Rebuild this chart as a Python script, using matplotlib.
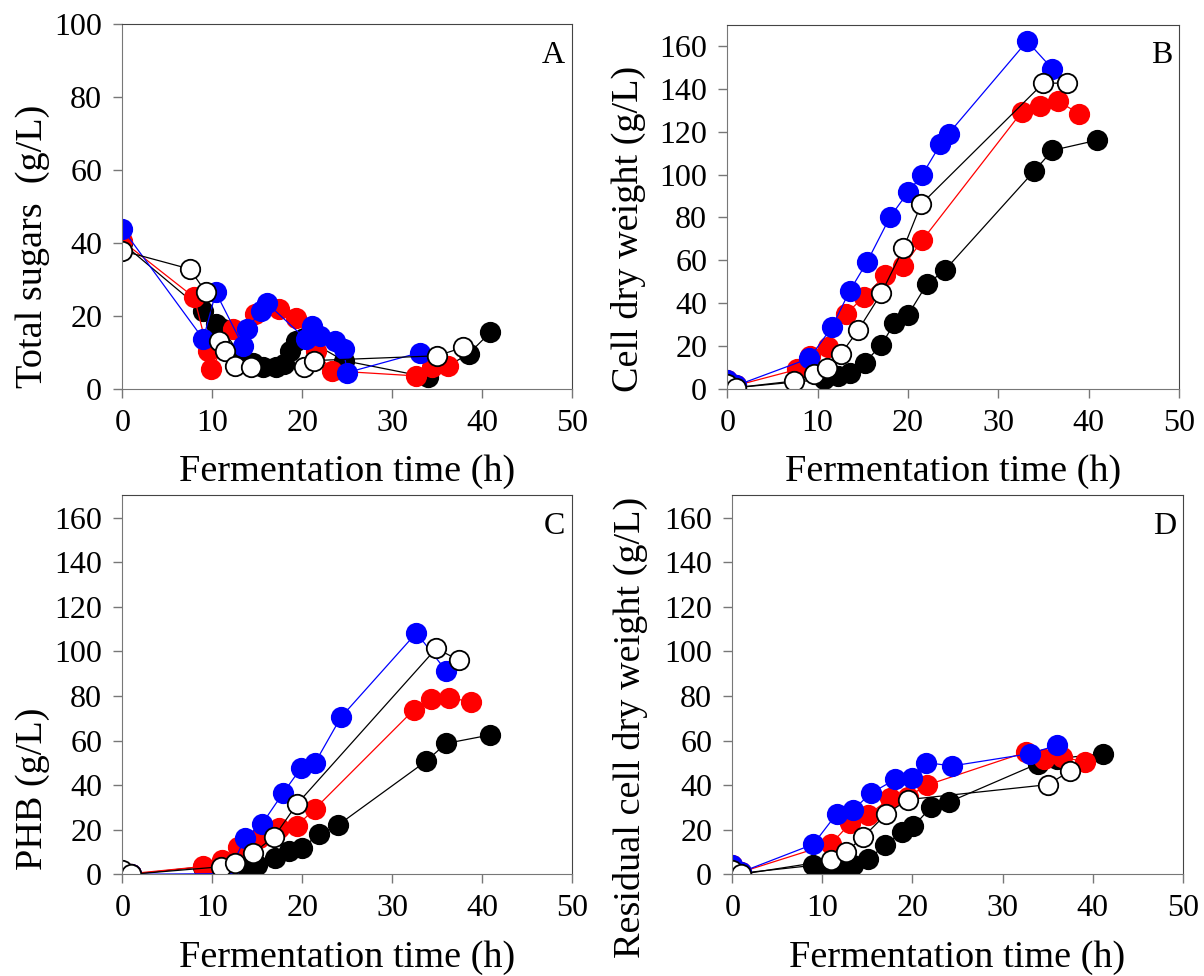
import numpy as np
import matplotlib
matplotlib.use("Agg")
import matplotlib.pyplot as plt

plt.rcParams['font.family'] = ['Liberation Serif', 'DejaVu Serif']

# ---- Panel A: total sugars (g/L)
a_black_t = [0, 9.0, 10.4, 11.2, 13.0, 14.5, 15.6, 17.1, 18.0, 18.6, 19.3, 20.2, 24.6, 34.0, 38.5, 40.9]
a_black_y = [40, 21.4, 17.8, 16.4, 9.6, 7.0, 5.9, 5.9, 6.8, 10.5, 13.2, 14.0, 7.8, 3.2, 9.6, 15.5]
a_red_t = [0, 8.0, 9.5, 9.9, 12.3, 14.7, 17.4, 19.3, 21.5, 23.3, 32.6, 34.4, 36.2]
a_red_y = [40.6, 25.1, 10.5, 5.5, 16.4, 20.5, 21.9, 19.6, 10.5, 5.0, 3.6, 5.9, 6.4]
a_blue_t = [0, 9.0, 10.4, 13.4, 13.9, 15.4, 16.1, 20.4, 21.1, 22.0, 23.7, 24.6, 25.0, 33.1]
a_blue_y = [44, 13.7, 26.5, 11.9, 16.4, 21.5, 23.5, 13.7, 17.3, 14.5, 13.2, 11.0, 4.5, 10.0]
a_open_t = [0, 7.5, 9.3, 10.8, 11.4, 12.5, 14.3, 20.2, 21.3, 35.0, 37.9]
a_open_y = [37.9, 32.9, 26.5, 13.2, 10.5, 6.4, 5.9, 5.9, 7.8, 9.1, 11.4]

# ---- Panel B: cell dry weight (g/L)
b_black_t = [1, 10.7, 12.3, 13.6, 15.2, 17.05, 18.5, 20.0, 22.1, 24.1, 34.0, 36.0, 40.9]
b_black_y = [0.5, 4.4, 5.9, 7.2, 12.1, 20.4, 30.5, 34.4, 48.8, 55.4, 101.7, 111.3, 116]
b_red_t = [0, 1, 7.75, 9.2, 11.1, 13.1, 15.1, 17.5, 19.5, 21.6, 32.6, 34.6, 36.6, 39.0]
b_red_y = [4, 1.5, 9, 15.3, 19.6, 34.7, 42.8, 53, 57.2, 69.4, 129.2, 131.9, 134.3, 128.4]
b_blue_t = [0, 1, 9.1, 11.6, 13.55, 15.5, 18.0, 20.0, 21.6, 23.6, 24.5, 33.2, 36.0]
b_blue_y = [4, 1.5, 14.2, 28.9, 45.6, 59.4, 80, 91.7, 100, 114.1, 119.1, 162.3, 149.4]
b_open_t = [0, 1, 7.4, 9.6, 11.0, 12.55, 14.5, 17.05, 19.5, 21.45, 35.0, 37.6]
b_open_y = [2, 0.5, 3.6, 6.7, 9.8, 16, 27.4, 44.5, 65.5, 86.1, 142.7, 142.7]

# ---- Panel C: PHB (g/L)
c_black_t = [1, 9.0, 12.3, 13.75, 15.0, 17.0, 18.55, 20.0, 21.9, 24.0, 33.8, 36.0, 40.9]
c_black_y = [0, 3.4, 2.0, 3.4, 4.2, 7.4, 10.6, 12.0, 17.9, 22.1, 50.8, 58.7, 62.5]
c_red_t = [0, 1, 9.0, 11.1, 12.9, 15.2, 17.4, 19.4, 21.4, 32.4, 34.3, 36.3, 38.8]
c_red_y = [1, 0.3, 3.5, 6.4, 12.4, 16.1, 20.6, 21.8, 29.3, 73.7, 78.5, 79.2, 77.4]
c_blue_t = [0, 1, 11.8, 13.65, 15.5, 17.9, 19.9, 21.4, 24.3, 32.7, 36.0]
c_blue_y = [0.5, 0, 0.3, 16.4, 22.4, 36.6, 47.8, 49.8, 70.4, 108.3, 91.3]
c_open_t = [0, 1, 11.0, 12.5, 14.5, 16.9, 19.4, 34.9, 37.4]
c_open_y = [1.9, 0, 3.4, 4.9, 9.4, 16.9, 31.4, 101.3, 96.1]

# ---- Panel D: residual cell dry weight (g/L)
d_black_t = [1, 9.0, 10.7, 11.9, 13.4, 15.1, 17.0, 18.8, 20.1, 22.1, 24.1, 33.9, 36.1, 41.2]
d_black_y = [0.5, 4, 2, 3.4, 4, 7, 13, 19, 21.5, 30.3, 32.5, 49.6, 51.9, 54.1]
d_red_t = [0, 1, 11.0, 13.1, 15.1, 17.5, 19.5, 21.6, 32.6, 34.6, 36.6, 39.2]
d_red_y = [4, 1, 13.8, 22.9, 26.6, 34.1, 34.8, 40, 54.8, 51.8, 52.6, 50.4]
d_blue_t = [0, 1, 9.0, 11.6, 13.4, 15.45, 18.1, 19.9, 21.55, 24.4, 33.0, 36.0]
d_blue_y = [4, 1, 13.5, 27.2, 29, 36.5, 42.6, 43.2, 50.1, 48.6, 54.1, 57.8]
d_open_t = [0, 1, 11.0, 12.6, 14.5, 17.1, 19.5, 35.0, 37.5]
d_open_y = [1.8, 0, 6.3, 10, 16.6, 27.1, 33.5, 40.2, 46.3]

x_label = "Fermentation time (h)"
y_labels = ["Total sugars  (g/L)", "Cell dry weight (g/L)", "PHB (g/L)", "Residual cell dry weight (g/L)"]
letters = ["A", "B", "C", "D"]

W, H = 1204, 976
fig = plt.figure(figsize=(W / 100, H / 100), dpi=100)

# axes boxes in pixels: left, top, right, bottom
boxes = [(122.3, 24.3, 572.0, 389.0),
         (727.3, 24.7, 1178.8, 388.7),
         (122.3, 495.3, 572.0, 874.3),
         (732.3, 495.3, 1182.7, 874.3)]
# y label anchor (x centre px, y px, vertical alignment)
ylab_pos = [(33, 246, "center"), (628, 66, "top"), (33, 870, "bottom"), (630, 497, "top")]

panels = [
    [(a_black_t, a_black_y), (a_red_t, a_red_y), (a_blue_t, a_blue_y), (a_open_t, a_open_y)],
    [(b_black_t, b_black_y), (b_red_t, b_red_y), (b_blue_t, b_blue_y), (b_open_t, b_open_y)],
    [(c_black_t, c_black_y), (c_red_t, c_red_y), (c_blue_t, c_blue_y), (c_open_t, c_open_y)],
    [(d_black_t, d_black_y), (d_red_t, d_red_y), (d_blue_t, d_blue_y), (d_open_t, d_open_y)],
]
styles = [dict(color="black", mfc="black", mec="black"),
          dict(color="red", mfc="red", mec="red"),
          dict(color="blue", mfc="blue", mec="blue"),
          dict(color="black", mfc="white", mec="black")]

fs = 23
lfs = 27.5
for i, (l, t, r, b) in enumerate(boxes):
    ax = fig.add_axes([l / W, 1 - b / H, (r - l) / W, (b - t) / H])
    for (xs, ys), st in zip(panels[i], styles):
        ax.plot(xs, ys, "-o", lw=0.9, ms=14, mew=1.3, **st)
    ax.set_xlim(0, 50)
    ax.set_xticks(np.arange(0, 51, 10))
    if i == 0:
        ax.set_ylim(0, 100)
        ax.set_yticks(np.arange(0, 101, 20))
    else:
        ax.set_ylim(0, 170)
        ax.set_yticks(np.arange(0, 161, 20))
    for s in ["left", "bottom"]:
        ax.spines[s].set_color("#777777")
    for s in ["top", "right"]:
        ax.spines[s].set_color("#444444")
    ax.tick_params(direction="out", length=6.5, width=1, color="#777777",
                   labelsize=fs, pad=8)
    ax.set_xlabel(x_label, fontsize=lfs, labelpad=12)
    lx, ly, va = ylab_pos[i]
    fig.text(lx / W, 1 - ly / H, y_labels[i], rotation=90, ha="center", va=va, fontsize=lfs)
    ax.text(0.985, 0.955, letters[i], transform=ax.transAxes, ha="right", va="top", fontsize=fs)

fig.savefig("out.png", dpi=100)
